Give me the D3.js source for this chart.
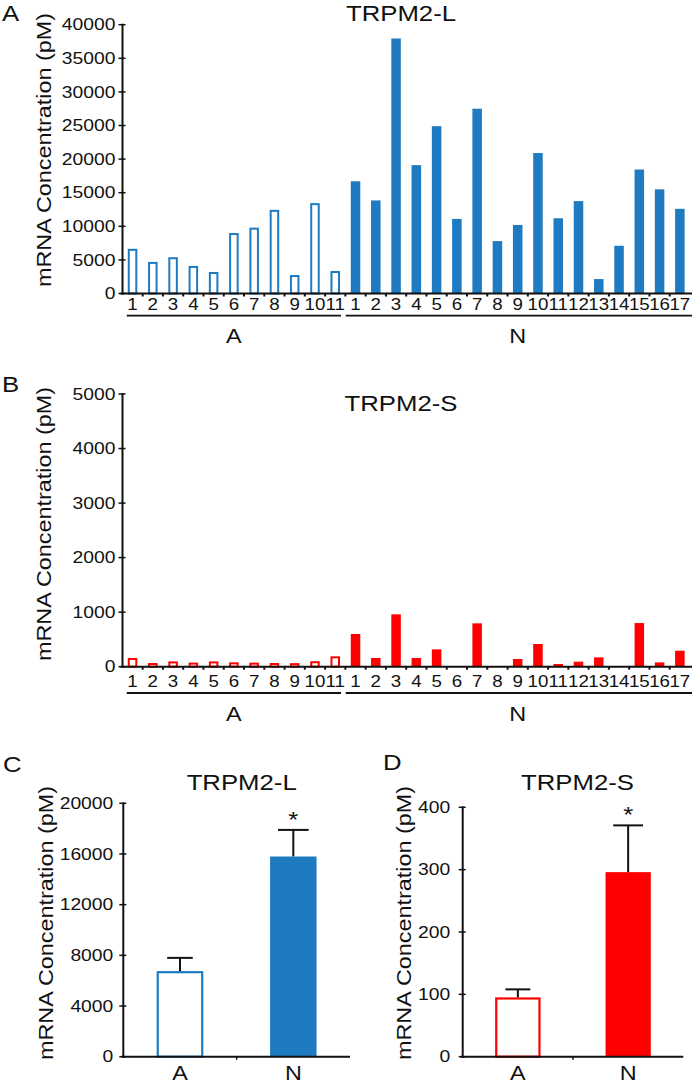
<!DOCTYPE html>
<html><head><meta charset="utf-8">
<script src="https://cdn.jsdelivr.net/npm/d3@7/dist/d3.min.js"></script>
<style>body{margin:0;background:#fff}</style>
</head><body>
<script>
// ---------------- data ----------------
const catsA = ["1","2","3","4","5","6","7","8","9","10","11"];
const catsN = ["1","2","3","4","5","6","7","8","9","10","11","12","13","14","15","16","17"];
const longA = [6650, 4700, 5400, 4100, 3200, 9000, 9800, 12450, 2750, 13450, 3350];
const longN = [16700, 13850, 37950, 19100, 24900, 11100, 27500, 7800, 10200, 20900, 11200, 13750, 2150, 7100, 18450, 15500, 12600];
const shortA = [160, 68, 97, 75, 97, 80, 74, 68, 65, 100, 190];
const shortN = [600, 160, 960, 160, 318, 0, 795, 0, 141, 416, 50, 92, 171, 0, 800, 79, 293];
const groups = ["A", "N"];
const meanLong = [6750, 15800];
const semLong = [1050, 2100];
const meanShort = [95, 296];
const semShort = [13, 75];
const ticksLong = [0,5000,10000,15000,20000,25000,30000,35000,40000];
const ticksShort = [0,1000,2000,3000,4000,5000];
const ticksMeanLong = [0,4000,8000,12000,16000,20000];
const ticksMeanShort = [0,100,200,300,400];
const yLabel = "mRNA Concentration (pM)";

// ---------------- setup ----------------
const W = 693, H = 1085, K = 1.17;
const BLUE = "#1f7bc1", RED = "#ff0000";
const svg = d3.select("body").append("svg").attr("width", W).attr("height", H)
  .style("font-family", "'Liberation Sans', Arial, Helvetica, sans-serif");

// text drawn in a horizontally widened frame (the source font is wider than Arial)
function txt(x, y, s, size, anchor, parent) {
  return (parent || svg).append("text")
    .attr("transform", `translate(${x},${y}) scale(${K},1)`)
    .attr("font-size", size).attr("text-anchor", anchor || "start").attr("fill", "#111").text(s);
}
function yAxisLabel(cx, cy) {
  svg.append("text").attr("transform", `translate(${cx},${cy}) rotate(-90) scale(${K},1)`)
    .attr("text-anchor", "middle").attr("dy", "0.35em").attr("font-size", 20).attr("fill", "#111").text(yLabel);
}
function yAxis(y, x0, ticks, gap) {
  const g = svg.append("g");
  const d = y.domain();
  g.append("line").attr("x1", x0).attr("x2", x0).attr("y1", y(d[0]) + 1).attr("y2", y(d[1]) - 1)
    .attr("stroke", "#111").attr("stroke-width", 2);
  g.selectAll("line.tk").data(ticks).join("line").attr("class", "tk")
    .attr("x1", x0 - 4).attr("x2", x0 + 3).attr("y1", v => y(v)).attr("y2", v => y(v))
    .attr("stroke", "#111").attr("stroke-width", 1.5);
  g.selectAll("text").data(ticks).join("text")
    .attr("transform", v => `translate(${x0 - gap},${y(v)}) scale(${K},1)`).attr("dy", "0.35em")
    .attr("text-anchor", "end").attr("font-size", 16.5).attr("fill", "#111").text(v => v);
}

// ---------------- individual sample panels (A, B) ----------------
function samplePanel(cfg) {
  const ids = catsA.map(c => "A" + c).concat(catsN.map(c => "N" + c));
  const labels = catsA.concat(catsN);
  const vals = cfg.valsA.concat(cfg.valsN);
  const x = d3.scaleBand().domain(ids).range([122.4, 690]).paddingInner(0.53).paddingOuter(0.265);
  const y = d3.scaleLinear().domain([0, cfg.max]).range(cfg.yRange);
  const bw = x.bandwidth(), step = x.step();
  const axX = 122.5;
  const data = ids.map((id, i) => ({ id, v: vals[i], open: id[0] === "A" }));
  svg.append("g").selectAll("rect").data(data.filter(d => d.v > 0)).join("rect")
    .attr("x", d => d.open ? x(d.id) + 1 : x(d.id))
    .attr("width", d => d.open ? bw - 2 : bw)
    .attr("y", d => d.open ? y(d.v) + 1 : y(d.v))
    .attr("height", d => Math.max(0, y(0) - y(d.v) - (d.open ? 1 : 0)))
    .attr("fill", d => d.open ? "#fff" : cfg.color)
    .attr("stroke", d => d.open ? cfg.color : "none")
    .attr("stroke-width", 2);
  // x axis
  svg.append("line").attr("x1", axX - 2).attr("x2", 692).attr("y1", y(0)).attr("y2", y(0))
    .attr("stroke", "#111").attr("stroke-width", 2);
  svg.append("g").selectAll("line").data(ids.slice(1)).join("line")
    .attr("x1", d => x(d) - (step - bw) / 2).attr("x2", d => x(d) - (step - bw) / 2)
    .attr("y1", y(0)).attr("y2", y(0) + 3).attr("stroke", "#111").attr("stroke-width", 2);
  yAxis(y, axX, cfg.ticks, 7);
  // category labels
  const cg = svg.append("g");
  ids.forEach((id, i) => txt(x(id) + bw / 2, cfg.catY, labels[i], 16, "middle", cg));
  // group lines and labels
  const a0 = x("A1"), a1 = x("A11") + bw, n0 = x("N1");
  svg.append("line").attr("x1", a0 - 1).attr("x2", a1 + 1).attr("y1", cfg.lineY).attr("y2", cfg.lineY)
    .attr("stroke", "#111").attr("stroke-width", 1.8);
  svg.append("line").attr("x1", n0 - 5).attr("x2", 692).attr("y1", cfg.lineY).attr("y2", cfg.lineY)
    .attr("stroke", "#111").attr("stroke-width", 1.8);
  txt((x("A1") + x("A11") + bw) / 2, cfg.groupY, "A", 20, "middle");
  txt((x("N1") + x("N17") + bw) / 2, cfg.groupY, "N", 20, "middle");
  txt(401, cfg.titleY, cfg.title, 22, "middle");
  txt(2, cfg.letterY, cfg.letter, 22, "start");
  yAxisLabel(44, cfg.labelCY);
}

samplePanel({ max: 40000, yRange: [293.5, 24.7], ticks: ticksLong, valsA: longA, valsN: longN,
  color: BLUE, catY: 309.5, lineY: 315.7, groupY: 342.5, title: "TRPM2-L", titleY: 20.5,
  letter: "A", letterY: 21, labelCY: 150 });
samplePanel({ max: 5000, yRange: [666.7, 394], ticks: ticksShort, valsA: shortA, valsN: shortN,
  color: RED, catY: 686.5, lineY: 693, groupY: 721, title: "TRPM2-S", titleY: 411,
  letter: "B", letterY: 392, labelCY: 524 });

// ---------------- mean panels (C, D) ----------------
function meanPanel(cfg) {
  const x = d3.scaleBand().domain(groups).range(cfg.xRange).paddingInner(0.59).paddingOuter(0.295);
  const y = d3.scaleLinear().domain([0, cfg.max]).range([1056.7, cfg.yTop]);
  const bw = x.bandwidth();
  const data = groups.map((g, i) => ({ g, m: cfg.mean[i], s: cfg.sem[i], open: i === 0, cap: i === 0 ? 0.55 : 0.66 }));
  const eg = svg.append("g");
  eg.selectAll("line.v").data(data).join("line").attr("class", "v")
    .attr("x1", d => x(d.g) + bw / 2).attr("x2", d => x(d.g) + bw / 2)
    .attr("y1", d => y(d.m)).attr("y2", d => y(d.m + d.s)).attr("stroke", "#111").attr("stroke-width", 2);
  eg.selectAll("line.c").data(data).join("line").attr("class", "c")
    .attr("x1", d => x(d.g) + bw / 2 - bw * d.cap / 2).attr("x2", d => x(d.g) + bw / 2 + bw * d.cap / 2)
    .attr("y1", d => y(d.m + d.s)).attr("y2", d => y(d.m + d.s)).attr("stroke", "#111").attr("stroke-width", 2);
  svg.append("g").selectAll("rect").data(data).join("rect")
    .attr("x", d => d.open ? x(d.g) + 1 : x(d.g)).attr("width", d => d.open ? bw - 2 : bw)
    .attr("y", d => d.open ? y(d.m) + 1 : y(d.m)).attr("height", d => y(0) - y(d.m) - (d.open ? 1 : 0))
    .attr("fill", d => d.open ? "#fff" : cfg.color).attr("stroke", d => d.open ? cfg.color : "none")
    .attr("stroke-width", 2.2);
  svg.append("line").attr("x1", cfg.xRange[0] - 2).attr("x2", cfg.xRange[1]).attr("y1", y(0)).attr("y2", y(0))
    .attr("stroke", "#111").attr("stroke-width", 2);
  const mid = x("N") - (x.step() - bw) / 2;
  svg.append("line").attr("x1", mid).attr("x2", mid).attr("y1", y(0)).attr("y2", y(0) + 3)
    .attr("stroke", "#111").attr("stroke-width", 1.5);
  yAxis(y, cfg.xRange[0], cfg.ticks, cfg.gap);
  groups.forEach(g => txt(x(g) + bw / 2, 1080, g, 20, "middle"));
  txt(x("N") + bw / 2, y(data[1].m + data[1].s) - 3, "*", 22, "middle");
  txt(cfg.titleX, 790, cfg.title, 22, "middle");
  txt(cfg.letterX, cfg.letterY, cfg.letter, 22, "start");
  yAxisLabel(cfg.labelX, 923);
}

meanPanel({ xRange: [123.3, 350], max: 20000, yTop: 803.3, ticks: ticksMeanLong, mean: meanLong, sem: semLong,
  color: BLUE, gap: 10, title: "TRPM2-L", titleX: 241.7, letter: "C", letterX: 3, letterY: 772, labelX: 46 });
meanPanel({ xRange: [462.7, 683.3], max: 400, yTop: 807.3, ticks: ticksMeanShort, mean: meanShort, sem: semShort,
  color: RED, gap: 12.5, title: "TRPM2-S", titleX: 577.5, letter: "D", letterX: 383, letterY: 770, labelX: 404 });
</script>
</body></html>
